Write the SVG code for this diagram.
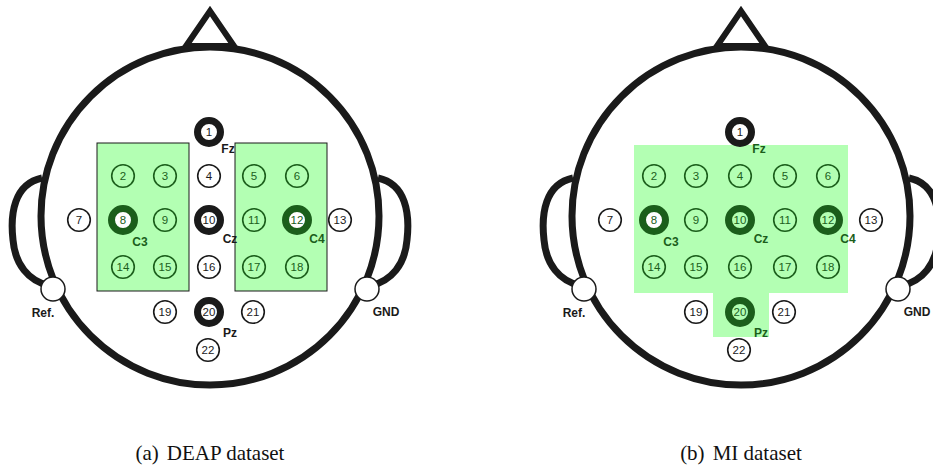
<svg xmlns="http://www.w3.org/2000/svg" xmlns:xlink="http://www.w3.org/1999/xlink" width="933" height="474" viewBox="0 0 933 474">
  <style>
    .outline { fill: none; stroke: #1a1a1a; stroke-width: 7; stroke-linejoin: miter; }
    .nose { fill: #ffffff; stroke: #1a1a1a; stroke-width: 6; }
    .port { fill: #ffffff; stroke: #1a1a1a; stroke-width: 1.5; }
    .zone { fill: #b3ffb3; }
    .zone-box { fill: #b3ffb3; stroke: #1a1a1a; stroke-width: 1; }
    .el { fill: #ffffff; stroke: #1a1a1a; stroke-width: 1.6; }
    .el-g { fill: none; stroke: #1b5e1b; stroke-width: 1.6; }
    .el-key { fill: #ffffff; stroke: #1a1a1a; stroke-width: 7; }
    .el-key-g { fill: none; stroke: #1b5e1b; stroke-width: 7; }
    .el-key-gw { fill: #ffffff; stroke: #1b5e1b; stroke-width: 7; }
    .num { font-family: "Liberation Sans", Arial, sans-serif; font-size: 11.5px; text-anchor: middle; fill: #1a1a1a; }
    .num-g { font-family: "Liberation Sans", Arial, sans-serif; font-size: 11.5px; text-anchor: middle; fill: #1b5e1b; }
    .tag { font-family: "Liberation Sans", Arial, sans-serif; font-size: 12px; font-weight: bold; text-anchor: middle; fill: #1a1a1a; }
    .tag-g { font-family: "Liberation Sans", Arial, sans-serif; font-size: 12px; font-weight: bold; text-anchor: middle; fill: #1b5e1b; }
    .caption { font-family: "Liberation Serif", "Times New Roman", serif; font-size: 21px; text-anchor: middle; fill: #111111; }
  </style>
  <defs>
    <!-- head outline: nose, ears, skull, reference/ground ports -->
    <g id="head">
      <polygon class="nose" points="186,46 210,11 234,46"/>
      <path class="outline" d="M 42 178 C 14 184, 10 214, 13 240 C 15 264, 28 281, 50 286"/>
      <path class="outline" d="M 378 178 C 406 184, 410 214, 407 240 C 405 264, 392 281, 370 286"/>
      <circle cx="210" cy="216" r="169" fill="#ffffff" stroke="#1a1a1a" stroke-width="7"/>
      <circle class="port" cx="53" cy="289" r="12"/>
      <circle class="port" cx="367" cy="289" r="12"/>
      <text class="tag" x="43" y="317">Ref.</text>
      <text class="tag" x="386" y="316">GND</text>
    </g>
  </defs>

  <!-- (a) DEAP layout -->
  <g id="deap">
    <use xlink:href="#head"/>
    <g id="deap-zones">
      <rect class="zone-box" x="97" y="143" width="92" height="148"/>
      <rect class="zone-box" x="235" y="143" width="92" height="148"/>
    </g>
    <g id="deap-e1"><circle class="el-key" cx="209" cy="132" r="11.5"/><text class="num" x="209" y="136">1</text><text class="tag" x="228" y="153">Fz</text></g>
    <g id="deap-e2"><circle class="el-g" cx="123" cy="176" r="11.3"/><text class="num-g" x="123" y="180">2</text></g>
    <g id="deap-e3"><circle class="el-g" cx="165" cy="176" r="11.3"/><text class="num-g" x="165" y="180">3</text></g>
    <g id="deap-e4"><circle class="el" cx="209" cy="176" r="11.3"/><text class="num" x="209" y="180">4</text></g>
    <g id="deap-e5"><circle class="el-g" cx="254" cy="176" r="11.3"/><text class="num-g" x="254" y="180">5</text></g>
    <g id="deap-e6"><circle class="el-g" cx="297" cy="176" r="11.3"/><text class="num-g" x="297" y="180">6</text></g>
    <g id="deap-e7"><circle class="el" cx="79" cy="220" r="11.3"/><text class="num" x="79" y="224">7</text></g>
    <g id="deap-e8"><circle class="el-key-gw" cx="123" cy="220" r="11.5"/><text class="num-g" x="123" y="224">8</text><text class="tag-g" x="140" y="246">C3</text></g>
    <g id="deap-e9"><circle class="el-g" cx="165" cy="220" r="11.3"/><text class="num-g" x="165" y="224">9</text></g>
    <g id="deap-e10"><circle class="el-key" cx="209" cy="220" r="11.5"/><text class="num" x="209" y="224">10</text><text class="tag" x="230" y="243">Cz</text></g>
    <g id="deap-e11"><circle class="el-g" cx="254" cy="220" r="11.3"/><text class="num-g" x="254" y="224">11</text></g>
    <g id="deap-e12"><circle class="el-key-gw" cx="297" cy="220" r="11.5"/><text class="num-g" x="297" y="224">12</text><text class="tag-g" x="317" y="243">C4</text></g>
    <g id="deap-e13"><circle class="el" cx="340" cy="220" r="11.3"/><text class="num" x="340" y="224">13</text></g>
    <g id="deap-e14"><circle class="el-g" cx="123" cy="267" r="11.3"/><text class="num-g" x="123" y="271">14</text></g>
    <g id="deap-e15"><circle class="el-g" cx="165" cy="267" r="11.3"/><text class="num-g" x="165" y="271">15</text></g>
    <g id="deap-e16"><circle class="el" cx="209" cy="267" r="11.3"/><text class="num" x="209" y="271">16</text></g>
    <g id="deap-e17"><circle class="el-g" cx="254" cy="267" r="11.3"/><text class="num-g" x="254" y="271">17</text></g>
    <g id="deap-e18"><circle class="el-g" cx="297" cy="267" r="11.3"/><text class="num-g" x="297" y="271">18</text></g>
    <g id="deap-e19"><circle class="el" cx="165" cy="312" r="11.3"/><text class="num" x="165" y="316">19</text></g>
    <g id="deap-e20"><circle class="el-key" cx="209" cy="312" r="11.5"/><text class="num" x="209" y="316">20</text><text class="tag" x="230" y="337">Pz</text></g>
    <g id="deap-e21"><circle class="el" cx="253" cy="312" r="11.3"/><text class="num" x="253" y="316">21</text></g>
    <g id="deap-e22"><circle class="el" cx="208" cy="350" r="11.3"/><text class="num" x="208" y="354">22</text></g>
    <text class="caption" x="210" y="460">(a)<tspan dx="8">DEAP dataset</tspan></text>
  </g>

  <!-- (b) MI layout -->
  <g id="mi" transform="translate(531,0)">
    <use xlink:href="#head"/>
    <path id="mi-zone" class="zone" d="M 103 145 H 317 V 293 H 238 V 337 H 182 V 293 H 103 Z"/>
    <g id="mi-e1"><circle class="el-key" cx="209" cy="132" r="11.5"/><text class="num" x="209" y="136">1</text><text class="tag-g" x="228" y="153">Fz</text></g>
    <g id="mi-e2"><circle class="el-g" cx="123" cy="176" r="11.3"/><text class="num-g" x="123" y="180">2</text></g>
    <g id="mi-e3"><circle class="el-g" cx="165" cy="176" r="11.3"/><text class="num-g" x="165" y="180">3</text></g>
    <g id="mi-e4"><circle class="el-g" cx="209" cy="176" r="11.3"/><text class="num-g" x="209" y="180">4</text></g>
    <g id="mi-e5"><circle class="el-g" cx="254" cy="176" r="11.3"/><text class="num-g" x="254" y="180">5</text></g>
    <g id="mi-e6"><circle class="el-g" cx="297" cy="176" r="11.3"/><text class="num-g" x="297" y="180">6</text></g>
    <g id="mi-e7"><circle class="el" cx="79" cy="220" r="11.3"/><text class="num" x="79" y="224">7</text></g>
    <g id="mi-e8"><circle class="el-key-gw" cx="123" cy="220" r="11.5"/><text class="num-g" x="123" y="224">8</text><text class="tag-g" x="140" y="246">C3</text></g>
    <g id="mi-e9"><circle class="el-g" cx="165" cy="220" r="11.3"/><text class="num-g" x="165" y="224">9</text></g>
    <g id="mi-e10"><circle class="el-key-g" cx="209" cy="220" r="11.5"/><text class="num-g" x="209" y="224">10</text><text class="tag-g" x="230" y="243">Cz</text></g>
    <g id="mi-e11"><circle class="el-g" cx="254" cy="220" r="11.3"/><text class="num-g" x="254" y="224">11</text></g>
    <g id="mi-e12"><circle class="el-key-g" cx="297" cy="220" r="11.5"/><text class="num-g" x="297" y="224">12</text><text class="tag-g" x="317" y="243">C4</text></g>
    <g id="mi-e13"><circle class="el" cx="340" cy="220" r="11.3"/><text class="num" x="340" y="224">13</text></g>
    <g id="mi-e14"><circle class="el-g" cx="123" cy="267" r="11.3"/><text class="num-g" x="123" y="271">14</text></g>
    <g id="mi-e15"><circle class="el-g" cx="165" cy="267" r="11.3"/><text class="num-g" x="165" y="271">15</text></g>
    <g id="mi-e16"><circle class="el-g" cx="209" cy="267" r="11.3"/><text class="num-g" x="209" y="271">16</text></g>
    <g id="mi-e17"><circle class="el-g" cx="254" cy="267" r="11.3"/><text class="num-g" x="254" y="271">17</text></g>
    <g id="mi-e18"><circle class="el-g" cx="297" cy="267" r="11.3"/><text class="num-g" x="297" y="271">18</text></g>
    <g id="mi-e19"><circle class="el" cx="165" cy="312" r="11.3"/><text class="num" x="165" y="316">19</text></g>
    <g id="mi-e20"><circle class="el-key-g" cx="209" cy="312" r="11.5"/><text class="num-g" x="209" y="316">20</text><text class="tag-g" x="230" y="337">Pz</text></g>
    <g id="mi-e21"><circle class="el" cx="253" cy="312" r="11.3"/><text class="num" x="253" y="316">21</text></g>
    <g id="mi-e22"><circle class="el" cx="208" cy="350" r="11.3"/><text class="num" x="208" y="354">22</text></g>
    <text class="caption" x="210" y="460">(b)<tspan dx="8">MI dataset</tspan></text>
  </g>

  <!-- no connectors in this figure -->
  <g id="connectors"/>
</svg>
